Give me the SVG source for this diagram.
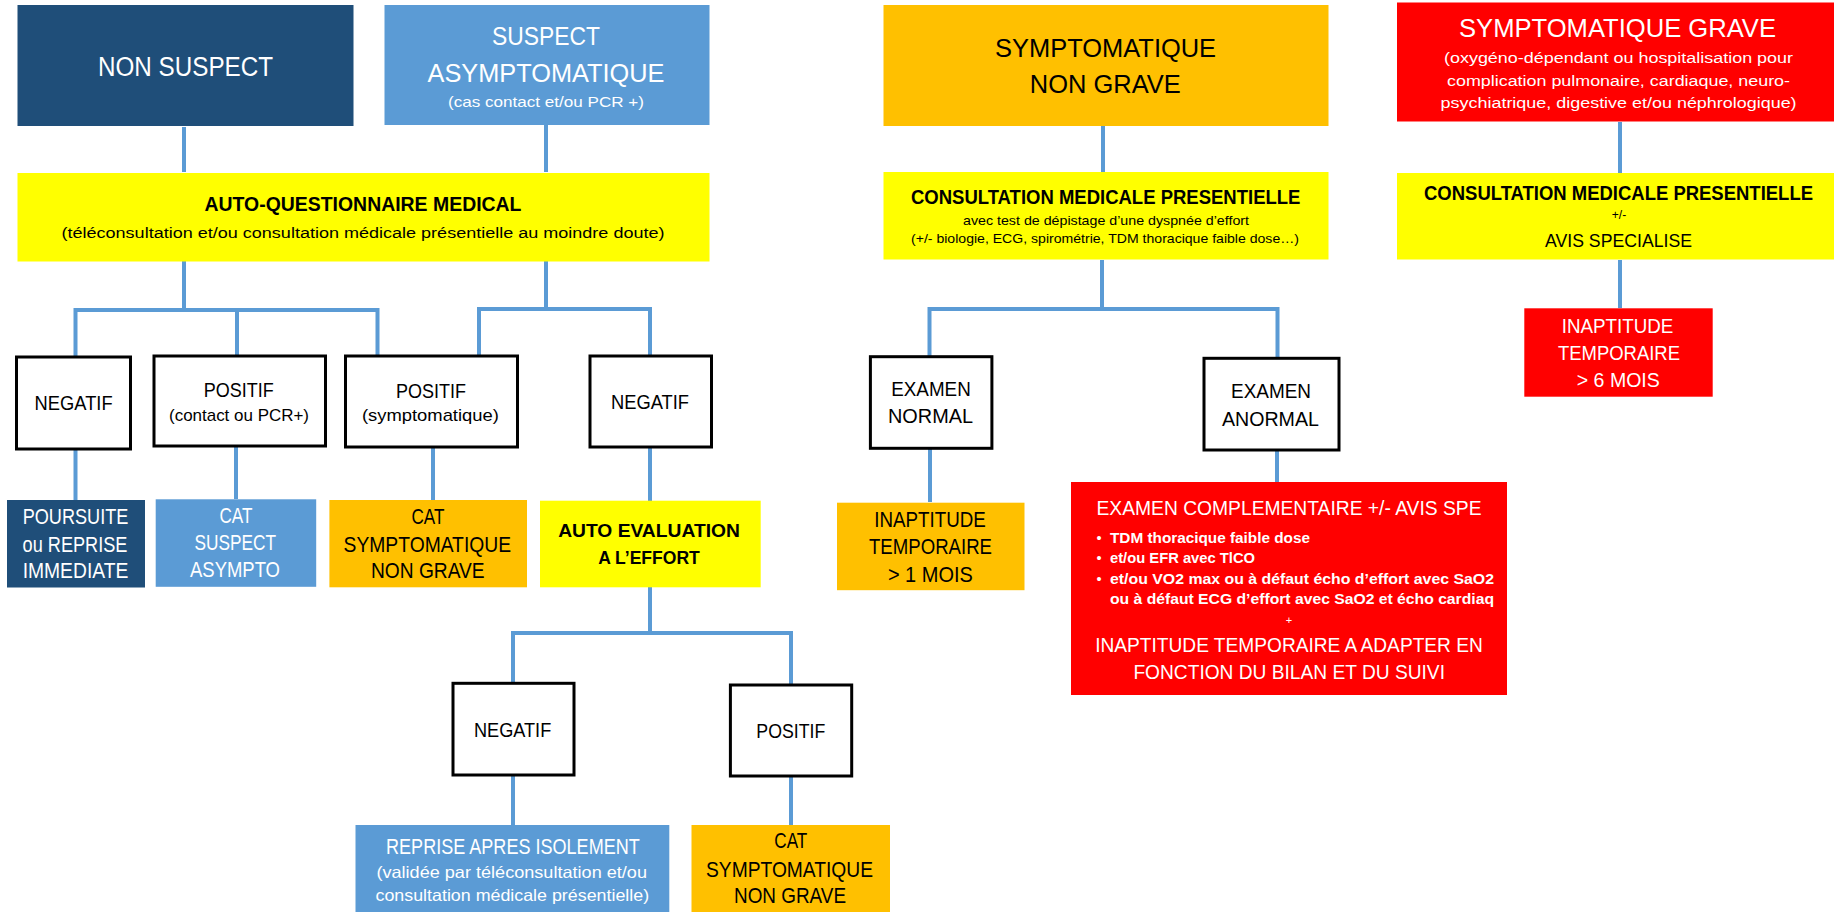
<svg xmlns="http://www.w3.org/2000/svg" width="1837" height="912" viewBox="0 0 1837 912">
<style>
text{font-family:"Liberation Sans",Arial,sans-serif;text-anchor:middle}
.w{fill:#fff}.k{fill:#000}.b{font-weight:bold}.l{text-anchor:start}
.dk{fill:#1F4E79}.bl{fill:#5B9BD5}.or{fill:#FFC000}.ye{fill:#FFFF00}.rd{fill:#FF0000}
.wb{fill:#fff;stroke:#000;stroke-width:3}
.con path{fill:none;stroke:#5B9BD5;stroke-width:4}
</style>
<rect width="1837" height="912" fill="#fff"/>
<g class="con">
<path d="M184,127 V172"/>
<path d="M546,125 V172"/>
<path d="M1103,126 V172"/>
<path d="M1620,122 V173"/>
<path d="M184,261 V310"/>
<path d="M75.5,357 V310 H377.5 V356"/>
<path d="M237,310 V356"/>
<path d="M546,261 V309"/>
<path d="M479,356 V309 H650 V356"/>
<path d="M75.5,449 V500"/>
<path d="M236,446 V499"/>
<path d="M433,447 V500"/>
<path d="M650,447 V501"/>
<path d="M650,587 V633"/>
<path d="M513,683 V633 H791 V685"/>
<path d="M513,775 V825"/>
<path d="M791,776 V825"/>
<path d="M1102,260 V309"/>
<path d="M929.5,357 V309 H1277.5 V358"/>
<path d="M930,449 V502"/>
<path d="M1277,450 V482"/>
<path d="M1620,260 V308"/>
</g>
<g id="non-suspect">
<rect class="dk" x="17.5" y="5" width="336" height="121"/>
<text class="w" x="185.5" y="76" font-size="27" textLength="175" lengthAdjust="spacingAndGlyphs">NON SUSPECT</text>
</g>
<g id="suspect-asympto">
<rect class="bl" x="384.5" y="5" width="325" height="120"/>
<text class="w" x="546" y="45" font-size="25.5" textLength="108" lengthAdjust="spacingAndGlyphs">SUSPECT</text>
<text class="w" x="546" y="81.7" font-size="25.5" textLength="237" lengthAdjust="spacingAndGlyphs">ASYMPTOMATIQUE</text>
<text class="w" x="546" y="107" font-size="15" textLength="196" lengthAdjust="spacingAndGlyphs">(cas contact et/ou PCR +)</text>
</g>
<g id="sympto-non-grave">
<rect class="or" x="883.5" y="5" width="445" height="121"/>
<text class="k" x="1105.6" y="56.7" font-size="25.5" textLength="221" lengthAdjust="spacingAndGlyphs">SYMPTOMATIQUE</text>
<text class="k" x="1105.3" y="93.3" font-size="25.5" textLength="151" lengthAdjust="spacingAndGlyphs">NON GRAVE</text>
</g>
<g id="sympto-grave">
<rect class="rd" x="1397" y="2.5" width="437" height="119"/>
<text class="w" x="1617.5" y="36.7" font-size="25.5" textLength="317" lengthAdjust="spacingAndGlyphs">SYMPTOMATIQUE  GRAVE</text>
<text class="w" x="1618.5" y="63" font-size="15.5" textLength="349" lengthAdjust="spacingAndGlyphs">(oxygéno-dépendant ou hospitalisation pour</text>
<text class="w" x="1618.5" y="86" font-size="15.5" textLength="343" lengthAdjust="spacingAndGlyphs">complication pulmonaire, cardiaque, neuro-</text>
<text class="w" x="1618.6" y="108.3" font-size="15.5" textLength="356" lengthAdjust="spacingAndGlyphs">psychiatrique, digestive et/ou néphrologique)</text>
</g>
<g id="auto-questionnaire">
<rect class="ye" x="17.5" y="173" width="692" height="88.5"/>
<text class="k b" x="363" y="210.7" font-size="19.5" textLength="317" lengthAdjust="spacingAndGlyphs">AUTO-QUESTIONNAIRE MEDICAL</text>
<text class="k" x="363" y="237.5" font-size="15.5" textLength="603" lengthAdjust="spacingAndGlyphs">(téléconsultation et/ou  consultation médicale présentielle au moindre doute)</text>
</g>
<g id="consult-non-grave">
<rect class="ye" x="883.5" y="172" width="445" height="87.5"/>
<text class="k b" x="1105.7" y="204" font-size="19.5" textLength="389.5" lengthAdjust="spacingAndGlyphs">CONSULTATION MEDICALE PRESENTIELLE</text>
<text class="k" x="1106" y="225" font-size="13" textLength="286" lengthAdjust="spacingAndGlyphs">avec test de dépistage d’une dyspnée d’effort</text>
<text class="k" x="1105" y="243.3" font-size="13" textLength="388" lengthAdjust="spacingAndGlyphs">(+/- biologie, ECG, spirométrie, TDM thoracique faible dose…)</text>
</g>
<g id="consult-grave">
<rect class="ye" x="1397" y="173" width="437" height="86.5"/>
<text class="k b" x="1618.5" y="200" font-size="19.5" textLength="389" lengthAdjust="spacingAndGlyphs">CONSULTATION MEDICALE PRESENTIELLE</text>
<text class="k" x="1619" y="219" font-size="12">+/-</text>
<text class="k" x="1618.5" y="246.7" font-size="18.6" textLength="147" lengthAdjust="spacingAndGlyphs">AVIS SPECIALISE</text>
</g>
<g id="negatif-1">
<rect class="wb" x="16.5" y="357" width="114" height="92"/>
<text class="k" x="73.6" y="410" font-size="21" textLength="78" lengthAdjust="spacingAndGlyphs">NEGATIF</text>
</g>
<g id="positif-contact">
<rect class="wb" x="154" y="356" width="171.5" height="90"/>
<text class="k" x="238.8" y="396.7" font-size="21" textLength="70" lengthAdjust="spacingAndGlyphs">POSITIF</text>
<text class="k" x="239" y="420.7" font-size="17" textLength="140" lengthAdjust="spacingAndGlyphs">(contact ou PCR+)</text>
</g>
<g id="positif-sympto">
<rect class="wb" x="345.5" y="356" width="172" height="91"/>
<text class="k" x="431" y="398" font-size="21" textLength="70" lengthAdjust="spacingAndGlyphs">POSITIF</text>
<text class="k" x="430.4" y="421" font-size="17" textLength="137" lengthAdjust="spacingAndGlyphs">(symptomatique)</text>
</g>
<g id="negatif-2">
<rect class="wb" x="590" y="356" width="121.5" height="91"/>
<text class="k" x="650" y="409" font-size="21" textLength="78" lengthAdjust="spacingAndGlyphs">NEGATIF</text>
</g>
<g id="poursuite">
<rect class="dk" x="7" y="500" width="138" height="87.5"/>
<text class="w" x="75.5" y="524" font-size="22" textLength="105.7" lengthAdjust="spacingAndGlyphs">POURSUITE</text>
<text class="w" x="75" y="551.7" font-size="22" textLength="104.8" lengthAdjust="spacingAndGlyphs">ou REPRISE</text>
<text class="w" x="75.5" y="578.3" font-size="22" textLength="105.7" lengthAdjust="spacingAndGlyphs">IMMEDIATE</text>
</g>
<g id="cat-suspect">
<rect class="bl" x="155.7" y="499.3" width="160.5" height="87.5"/>
<text class="w" x="236" y="522.7" font-size="22" textLength="33" lengthAdjust="spacingAndGlyphs">CAT</text>
<text class="w" x="235.2" y="550" font-size="22" textLength="81.6" lengthAdjust="spacingAndGlyphs">SUSPECT</text>
<text class="w" x="235" y="577.3" font-size="22" textLength="90" lengthAdjust="spacingAndGlyphs">ASYMPTO</text>
</g>
<g id="cat-sympto-1">
<rect class="or" x="329.4" y="500" width="197.6" height="87.3"/>
<text class="k" x="428" y="524" font-size="22" textLength="33" lengthAdjust="spacingAndGlyphs">CAT</text>
<text class="k" x="427.3" y="551.7" font-size="22" textLength="167.5" lengthAdjust="spacingAndGlyphs">SYMPTOMATIQUE</text>
<text class="k" x="427.8" y="578.3" font-size="22" textLength="113.7" lengthAdjust="spacingAndGlyphs">NON GRAVE</text>
</g>
<g id="auto-evaluation">
<rect class="ye" x="540" y="500.7" width="220.7" height="86.6"/>
<text class="k b" x="649" y="536.7" font-size="19" textLength="181.7" lengthAdjust="spacingAndGlyphs">AUTO EVALUATION</text>
<text class="k b" x="649" y="564" font-size="19" textLength="101.7" lengthAdjust="spacingAndGlyphs">A L’EFFORT</text>
</g>
<g id="negatif-eval">
<rect class="wb" x="453" y="683.3" width="121" height="91.7"/>
<text class="k" x="512.6" y="737.3" font-size="21" textLength="77.3" lengthAdjust="spacingAndGlyphs">NEGATIF</text>
</g>
<g id="positif-eval">
<rect class="wb" x="730.4" y="685" width="121.3" height="91"/>
<text class="k" x="790.8" y="738.3" font-size="21" textLength="68.9" lengthAdjust="spacingAndGlyphs">POSITIF</text>
</g>
<g id="reprise">
<rect class="bl" x="355.5" y="825" width="313.8" height="87"/>
<text class="w" x="512.9" y="854" font-size="21.5" textLength="253.7" lengthAdjust="spacingAndGlyphs">REPRISE APRES ISOLEMENT</text>
<text class="w" x="511.7" y="878.3" font-size="16.5" textLength="270.6" lengthAdjust="spacingAndGlyphs">(validée par téléconsultation et/ou</text>
<text class="w" x="512.3" y="901" font-size="16.5" textLength="273.6" lengthAdjust="spacingAndGlyphs">consultation médicale présentielle)</text>
</g>
<g id="cat-sympto-2">
<rect class="or" x="691.5" y="825" width="198.5" height="87"/>
<text class="k" x="790.8" y="848.3" font-size="22" textLength="33" lengthAdjust="spacingAndGlyphs">CAT</text>
<text class="k" x="789.5" y="876.7" font-size="22" textLength="167" lengthAdjust="spacingAndGlyphs">SYMPTOMATIQUE</text>
<text class="k" x="790" y="903.3" font-size="22" textLength="112" lengthAdjust="spacingAndGlyphs">NON GRAVE</text>
</g>
<g id="examen-normal">
<rect class="wb" x="870.4" y="356.7" width="121.5" height="91.6"/>
<text class="k" x="931" y="396" font-size="21" textLength="79.5" lengthAdjust="spacingAndGlyphs">EXAMEN</text>
<text class="k" x="930.5" y="423.3" font-size="21" textLength="85" lengthAdjust="spacingAndGlyphs">NORMAL</text>
</g>
<g id="examen-anormal">
<rect class="wb" x="1204" y="358.3" width="135" height="91.7"/>
<text class="k" x="1271" y="397.7" font-size="21" textLength="80" lengthAdjust="spacingAndGlyphs">EXAMEN</text>
<text class="k" x="1270.4" y="425.7" font-size="21" textLength="97" lengthAdjust="spacingAndGlyphs">ANORMAL</text>
</g>
<g id="inaptitude-1-mois">
<rect class="or" x="837" y="502.7" width="187.5" height="87.5"/>
<text class="k" x="930" y="526.7" font-size="22" textLength="111.5" lengthAdjust="spacingAndGlyphs">INAPTITUDE</text>
<text class="k" x="930.5" y="554.3" font-size="22" textLength="123" lengthAdjust="spacingAndGlyphs">TEMPORAIRE</text>
<text class="k" x="930.4" y="581.7" font-size="22" textLength="85" lengthAdjust="spacingAndGlyphs">&gt; 1 MOIS</text>
</g>
<g id="examen-complementaire">
<rect class="rd" x="1071" y="482" width="436" height="213"/>
<text class="w" x="1289" y="515" font-size="21" textLength="385" lengthAdjust="spacingAndGlyphs">EXAMEN COMPLEMENTAIRE +/- AVIS SPE</text>
<text class="w" x="1099" y="542.7" font-size="14.5">•</text>
<text class="w" x="1099" y="563.3" font-size="14.5">•</text>
<text class="w" x="1099" y="584" font-size="14.5">•</text>
<text class="w b l" x="1110" y="542.7" font-size="14.5" textLength="200" lengthAdjust="spacingAndGlyphs">TDM thoracique faible dose</text>
<text class="w b l" x="1110" y="563.3" font-size="14.5" textLength="145" lengthAdjust="spacingAndGlyphs">et/ou EFR avec TlCO</text>
<text class="w b l" x="1110" y="584" font-size="14.5" textLength="384" lengthAdjust="spacingAndGlyphs">et/ou VO2 max ou à défaut écho d’effort avec SaO2</text>
<text class="w b l" x="1110" y="604.3" font-size="14.5" textLength="384" lengthAdjust="spacingAndGlyphs">ou à défaut ECG d’effort avec SaO2 et écho cardiaq</text>
<text class="w" x="1289" y="624" font-size="11">+</text>
<text class="w" x="1289" y="651.7" font-size="21" textLength="387.6" lengthAdjust="spacingAndGlyphs">INAPTITUDE TEMPORAIRE A ADAPTER EN</text>
<text class="w" x="1289.2" y="679.3" font-size="21" textLength="311.6" lengthAdjust="spacingAndGlyphs">FONCTION DU BILAN ET DU SUIVI</text>
</g>
<g id="inaptitude-6-mois">
<rect class="rd" x="1524.3" y="308.3" width="188.4" height="88.4"/>
<text class="w" x="1617.5" y="332.7" font-size="21" textLength="111.6" lengthAdjust="spacingAndGlyphs">INAPTITUDE</text>
<text class="w" x="1619" y="360" font-size="21" textLength="122" lengthAdjust="spacingAndGlyphs">TEMPORAIRE</text>
<text class="w" x="1618.3" y="387.3" font-size="21" textLength="83" lengthAdjust="spacingAndGlyphs">&gt; 6 MOIS</text>
</g>
</svg>
